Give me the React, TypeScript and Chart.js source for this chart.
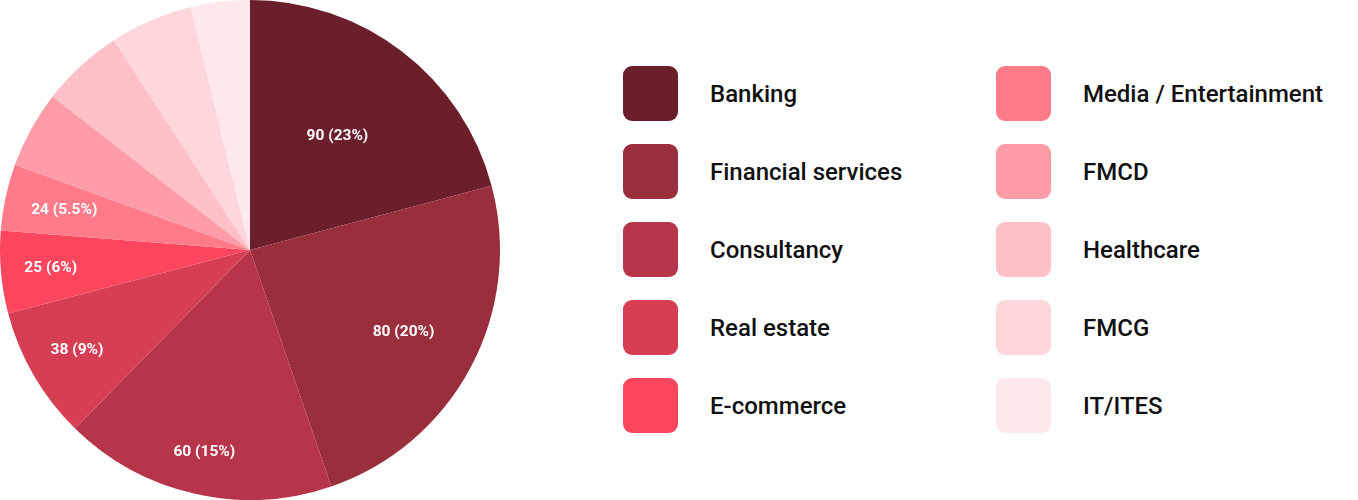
import React, { useEffect, useRef } from 'react';
import { Chart, registerables, ArcElement } from 'chart.js';

Chart.register(...registerables);

const sectors = [
  'Banking',
  'Financial services',
  'Consultancy',
  'Real estate',
  'E-commerce',
  'Media / Entertainment',
  'FMCD',
  'Healthcare',
  'FMCG',
  'IT/ITES',
];
// slice sizes
const sliceValues = [90, 103, 76, 37, 23, 18.5, 21.5, 23, 23, 16.5];
// numbers printed on the slices
const shownValues = [90, 80, 60, 38, 25, 24];
const shownPercents = ['23%', '20%', '15%', '9%', '6%', '5.5%'];

const colors = [
  '#6a1f2b',
  '#992e3d',
  '#b7354a',
  '#d63e53',
  '#fb465e',
  '#ff7b89',
  '#ff9ca7',
  '#ffc0c8',
  '#ffd6dc',
  '#ffe8eb',
];
// how far out (fraction of radius) each slice label sits
const labelRadius = [0.574, 0.696, 0.83, 0.8, 0.8, 0.76];

const FONT = 'Roboto, "Noto Sans", sans-serif';

const sliceLabelPlugin = {
  id: 'sliceLabels',
  afterDatasetsDraw(chart: Chart) {
    const { ctx } = chart;
    const meta = chart.getDatasetMeta(0);
    ctx.save();
    ctx.fillStyle = '#ffffff';
    ctx.font = `bold 15.5px ${FONT}`;
    ctx.textAlign = 'center';
    ctx.textBaseline = 'middle';
    meta.data.forEach((el, i) => {
      if (i >= shownValues.length) return;
      const arc = el as unknown as ArcElement;
      const { x, y, startAngle, endAngle, outerRadius } = arc.getProps(
        ['x', 'y', 'startAngle', 'endAngle', 'outerRadius'],
        true
      ) as any;
      const mid = (startAngle + endAngle) / 2;
      const r = outerRadius * labelRadius[i];
      ctx.fillText(`${shownValues[i]} (${shownPercents[i]})`, x + Math.cos(mid) * r, y + Math.sin(mid) * r);
    });
    ctx.restore();
  },
};

const SectorPie: React.FC = () => {
  const canvasRef = useRef<HTMLCanvasElement>(null);
  const chartRef = useRef<Chart | null>(null);

  useEffect(() => {
    if (!canvasRef.current) return;
    chartRef.current = new Chart(canvasRef.current, {
      type: 'pie',
      data: {
        labels: sectors,
        datasets: [
          {
            data: sliceValues,
            backgroundColor: colors,
            borderWidth: 0,
          },
        ],
      },
      options: {
        animation: false,
        responsive: true,
        maintainAspectRatio: false,
        layout: { padding: 0 },
        plugins: {
          legend: { display: false },
          tooltip: { enabled: false },
        },
      },
      plugins: [sliceLabelPlugin],
    });
    return () => {
      chartRef.current?.destroy();
      chartRef.current = null;
    };
  }, []);

  const rows = 5;

  return (
    <div style={{ position: 'fixed', left: 0, top: 0, width: 1358, height: 500, background: '#fff', fontFamily: FONT }}>
      <div style={{ position: 'absolute', left: 0, top: 0, width: 500, height: 500 }}>
        <canvas ref={canvasRef} />
      </div>
      {[0, 1].map(col => (
        <div key={col} style={{ position: 'absolute', left: col === 0 ? 623 : 996, top: 66 }}>
          {sectors.slice(col * rows, col * rows + rows).map((name, j) => (
            <div key={name} style={{ display: 'flex', alignItems: 'center', height: 55, marginBottom: 23 }}>
              <span
                style={{
                  width: 55,
                  height: 55,
                  borderRadius: 9,
                  background: colors[col * rows + j],
                  display: 'inline-block',
                  flexShrink: 0,
                }}
              />
              <span style={{ marginLeft: 32, fontSize: 24, fontWeight: 500, color: '#111', whiteSpace: 'nowrap' }}>
                {name}
              </span>
            </div>
          ))}
        </div>
      ))}
    </div>
  );
};

export default function App() {
  return <SectorPie />;
}
